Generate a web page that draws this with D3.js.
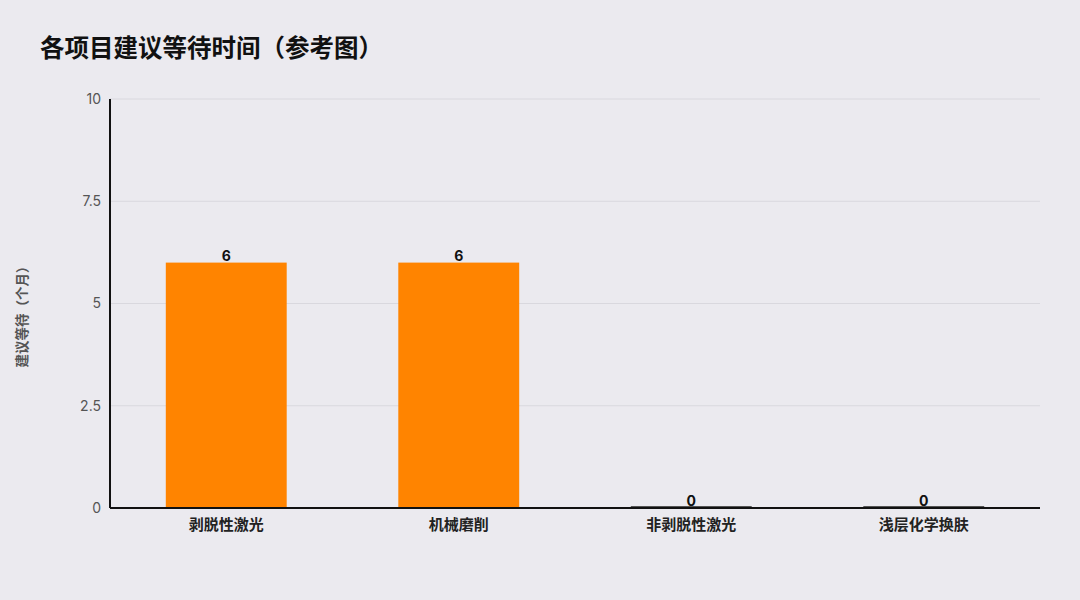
<!DOCTYPE html>
<html lang="zh">
<head>
  <meta charset="utf-8" />
  <title>各项目建议等待时间（参考图）</title>
  <style>
    body {
      margin: 0;
      background: #ebeaef;
      font-family: 'Noto Sans CJK SC', 'Noto Sans', sans-serif;
    }
    svg { display: block; }
    .grid line { stroke: #d9d8de; stroke-width: 1px; }
    .tick-label { fill: #555; font-size: 14px; font-family: Inter, 'Liberation Sans', sans-serif; }
    .cat-label { fill: #222; font-size: 15px; font-weight: 600; }
    .value-label { fill: #111; font-size: 14px; font-weight: 700; font-family: Inter, 'Liberation Sans', sans-serif; }
  </style>
</head>
<body>
<div id="chart"></div>

<script src="https://d3js.org/d3.v7.min.js"></script>
<script>
// Data
const categories = ["剥脱性激光", "机械磨削", "非剥脱性激光", "浅层化学换肤"];
const waitMonths = [6, 6, 0, 0];
const yTicks = [0, 2.5, 5, 7.5, 10];
const yTickLabels = ["0", "2.5", "5", "7.5", "10"];

// Layout
const W = 1080, H = 600;
const margin = { top: 99, right: 40, bottom: 92, left: 110 };
const innerW = W - margin.left - margin.right,
      innerH = H - margin.top - margin.bottom;

const svg = d3.select("#chart").append("svg")
    .attr("width", W)
    .attr("height", H);

svg.append("rect")
    .attr("width", W).attr("height", H)
    .attr("fill", "#ebeaef");

// Title
svg.append("text")
    .attr("x", 40).attr("y", 57)
    .attr("font-size", 24.5)
    .attr("font-weight", 700)
    .attr("fill", "#111")
    .text("各项目建议等待时间（参考图）");

const g = svg.append("g")
    .attr("transform", `translate(${margin.left},${margin.top})`);

const x = d3.scaleBand()
    .domain(categories)
    .range([0, innerW])
    .paddingInner(0.48)
    .paddingOuter(0.24);

const y = d3.scaleLinear()
    .domain([0, 10])
    .range([innerH, 0]);

// Gridlines
g.append("g").attr("class", "grid")
  .selectAll("line")
  .data(yTicks.filter(d => d > 0))
  .join("line")
    .attr("x1", 0).attr("x2", innerW)
    .attr("y1", d => y(d)).attr("y2", d => y(d));

// Y tick labels
g.append("g")
  .selectAll("text")
  .data(yTicks)
  .join("text")
    .attr("class", "tick-label")
    .attr("x", -9)
    .attr("y", d => y(d))
    .attr("dy", "0.35em")
    .attr("text-anchor", "end")
    .text((d, i) => yTickLabels[i]);

// Bars
const data = categories.map((c, i) => ({ cat: c, value: waitMonths[i] }));

g.append("g")
  .selectAll("rect")
  .data(data)
  .join("rect")
    .attr("x", d => x(d.cat))
    .attr("width", x.bandwidth())
    .attr("y", d => d.value > 0 ? y(d.value) : innerH - 2)
    .attr("height", d => d.value > 0 ? innerH - y(d.value) : 2)
    .attr("fill", d => d.value > 0 ? "#ff8400" : "#555");

// Value labels
g.append("g")
  .selectAll("text")
  .data(data)
  .join("text")
    .attr("class", "value-label")
    .attr("x", d => x(d.cat) + x.bandwidth() / 2)
    .attr("y", d => y(d.value) - 2)
    .attr("text-anchor", "middle")
    .text(d => d.value);

// Axes lines
g.append("line")
    .attr("x1", 0).attr("x2", 0)
    .attr("y1", 0).attr("y2", innerH)
    .attr("stroke", "#111").attr("stroke-width", 2);

g.append("line")
    .attr("x1", 0).attr("x2", innerW)
    .attr("y1", innerH).attr("y2", innerH)
    .attr("stroke", "#111").attr("stroke-width", 2);

// Category labels
g.append("g")
  .selectAll("text")
  .data(categories)
  .join("text")
    .attr("class", "cat-label")
    .attr("x", d => x(d) + x.bandwidth() / 2)
    .attr("y", innerH + 22)
    .attr("text-anchor", "middle")
    .text(d => d);

// Y axis title
svg.append("text")
    .attr("transform", `translate(27,${margin.top + innerH / 2 + 10}) rotate(-90)`)
    .attr("text-anchor", "middle")
    .attr("font-size", 13.5)
    .attr("font-weight", 600)
    .attr("fill", "#555")
    .text("建议等待（个月）");
</script>
</body>
</html>
